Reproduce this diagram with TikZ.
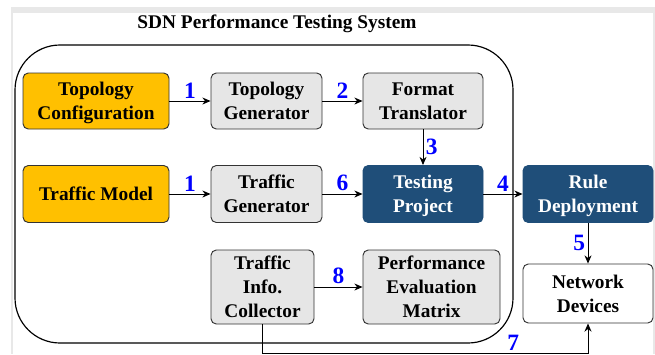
\documentclass[tikz,border=0pt]{standalone}
\usepackage{fontspec}
\setmainfont{Liberation Serif}
\usetikzlibrary{arrows.meta}
\definecolor{cfgorange}{HTML}{FFC000}
\definecolor{boxgray}{HTML}{E6E6E6}
\definecolor{projblue}{HTML}{1F4E79}
\definecolor{framegray}{HTML}{E8E8E8}
\definecolor{edgegray}{HTML}{333333}
\begin{document}
\begin{tikzpicture}[x=0.03cm, y=-0.03cm, line width=0.8pt,
    font=\fontsize{16.5}{20.5}\selectfont\bfseries,
    >={Stealth[length=7pt, width=6pt]},
    size/.style 2 args={minimum width=#1*0.03cm, minimum height=#2*0.03cm},
    box/.style={draw=edgegray, rounded corners=4.5pt, align=center, inner sep=0pt, text depth=0pt},
    orangebox/.style={box, fill=cfgorange},
    graybox/.style={box, fill=boxgray},
    bluebox/.style={box, draw=projblue, fill=projblue, text=white},
    whitebox/.style={box, fill=white},
    num/.style={text=blue, font=\fontsize{20}{20}\selectfont\bfseries, inner sep=2pt}]
    \useasboundingbox (0,0) rectangle (655,354);
    % frame
    \fill[framegray] (11,7) rectangle (655,354);
    \fill[white] (13,13) rectangle (652.7,354);
    % testing system
    \node (title) at (277,24) {SDN Performance Testing System};
    \draw[line width=1pt, rounded corners=1.35cm] (15,45) rectangle (513,343);
    % boxes
    \node[orangebox, size={146}{56}] (topocfg) at (96,101) {Topology\\Configuration};
    \node[graybox, size={111}{56}] (topogen) at (266.5,101) {Topology\\Generator};
    \node[graybox, size={120}{56}] (fmt) at (423,101) {Format\\Translator};
    \node[orangebox, size={146}{57}] (trafmod) at (96,194) {Traffic Model};
    \node[graybox, size={111}{57}] (trafgen) at (266.5,194) {Traffic\\Generator};
    \node[bluebox, size={120}{57}] (testproj) at (423,194) {Testing\\Project};
    \node[bluebox, size={130}{57}] (ruledep) at (588,194) {Rule\\Deployment};
    \node[graybox, size={103}{74}] (collector) at (262.5,287) {Traffic\\Info.\\Collector};
    \node[graybox, size={137}{74}] (perfmat) at (431.5,287) {Performance\\Evaluation\\Matrix};
    \node[whitebox, size={130}{59}] (netdev) at (588,293.5) {Network\\Devices};
    % arrows
    \draw[->] (topocfg) -- node[num, above] {1} (topogen);
    \draw[->] (topogen) -- node[num, above] {2} (fmt);
    \draw[->] (fmt) -- node[num, right] {3} (testproj);
    \draw[->] (trafmod) -- node[num, above] {1} (trafgen);
    \draw[->] (trafgen) -- node[num, above] {6} (testproj);
    \draw[->] (testproj) -- node[num, above] {4} (ruledep);
    \draw[->] (ruledep) -- node[num, left] {5} (netdev);
    \draw[->] (collector) -- node[num, above] {8} (perfmat);
    \draw[->] (collector.south) -- ++(0,28.7) coordinate (bend)
        -| node[num, above, pos=0.385] {7} (netdev.south);
\end{tikzpicture}
\end{document}
